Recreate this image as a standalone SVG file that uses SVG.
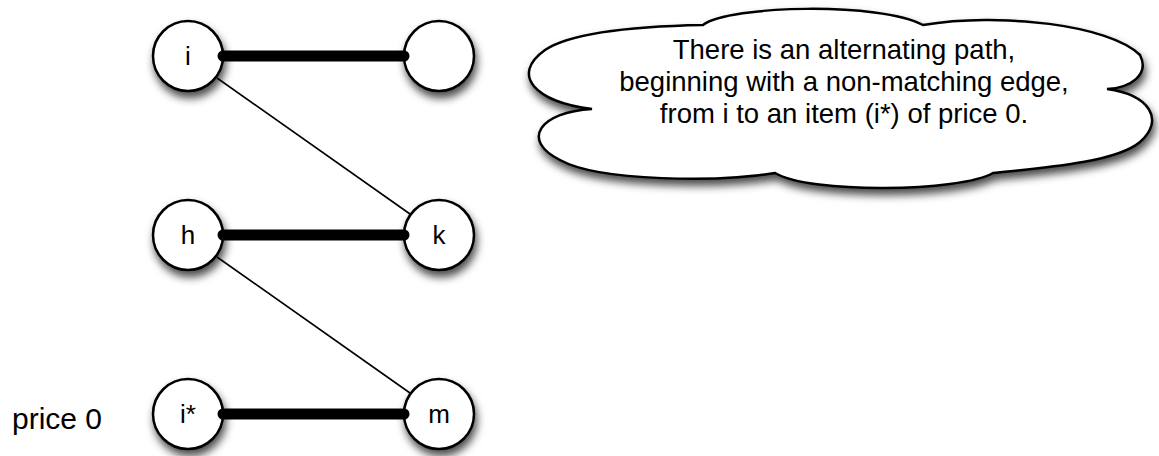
<svg xmlns="http://www.w3.org/2000/svg" width="1159" height="456" viewBox="0 0 1159 456">
  <defs>
    <filter id="shadow" x="-30%" y="-30%" width="160%" height="170%">
      <feDropShadow dx="2" dy="6" stdDeviation="4" flood-color="#000" flood-opacity="0.7"/>
    </filter>
    <style>
      .node { fill: #fff; stroke: #000; stroke-width: 2.5; filter: url(#shadow); }
      .label { font-family: "Liberation Sans", Arial, sans-serif; font-size: 26px; fill: #000; text-anchor: middle; }
      .match { stroke: #000; stroke-width: 11; stroke-linecap: round; fill: none; }
      .edge { stroke: #000; stroke-width: 1.6; fill: none; }
      .cloud { fill: #fff; stroke: #000; stroke-width: 2.5; filter: url(#shadow); }
      .ctext { font-family: "Liberation Sans", Arial, sans-serif; font-size: 27.5px; fill: #000; text-anchor: middle; }
      .side { font-family: "Liberation Sans", Arial, sans-serif; font-size: 30px; fill: #000; }
    </style>
  </defs>
  <rect width="1159" height="456" fill="#fff"/>

  <g id="cloud">
    <path class="cloud" d="M592,109 C535,102 510,75 545,50 C575,30 650,26 703,25 C730,5 880,2 923,25 C1000,12 1110,25 1140,55 C1150,75 1130,88 1107,89 C1150,95 1165,120 1140,142 C1115,163 1040,168 993,173 C960,192 810,194 775,173 C720,182 600,182 560,160 C520,140 540,112 592,109 Z"/>
    <text class="ctext" x="844" y="59">There is an alternating path,</text>
    <text class="ctext" x="844" y="91">beginning with a non-matching edge,</text>
    <text class="ctext" x="844" y="123">from i to an item (i*) of price 0.</text>
  </g>

  <g id="node-i"><circle class="node" cx="188" cy="56" r="35"/><text class="label" x="188" y="65">i</text></g>
  <g id="node-top-right"><circle class="node" cx="439" cy="56" r="35"/></g>
  <g id="node-h"><circle class="node" cx="188" cy="235" r="35"/><text class="label" x="188" y="244">h</text></g>
  <g id="node-k"><circle class="node" cx="439" cy="235" r="35"/><text class="label" x="439" y="244">k</text></g>
  <g id="node-istar"><circle class="node" cx="188" cy="414" r="35"/><text class="label" x="188" y="423">i*</text></g>
  <g id="node-m"><circle class="node" cx="439" cy="414" r="35"/><text class="label" x="439" y="423">m</text></g>

  <g id="connectors">
    <line class="match" x1="223" y1="56" x2="404" y2="56"/>
    <line class="match" x1="223" y1="235" x2="404" y2="235"/>
    <line class="match" x1="223" y1="414" x2="404" y2="414"/>
    <line class="edge" x1="217" y1="78" x2="410" y2="214"/>
    <line class="edge" x1="217" y1="257" x2="410" y2="393"/>
  </g>

  <text id="price-label" class="side" x="12" y="429">price 0</text>
</svg>
